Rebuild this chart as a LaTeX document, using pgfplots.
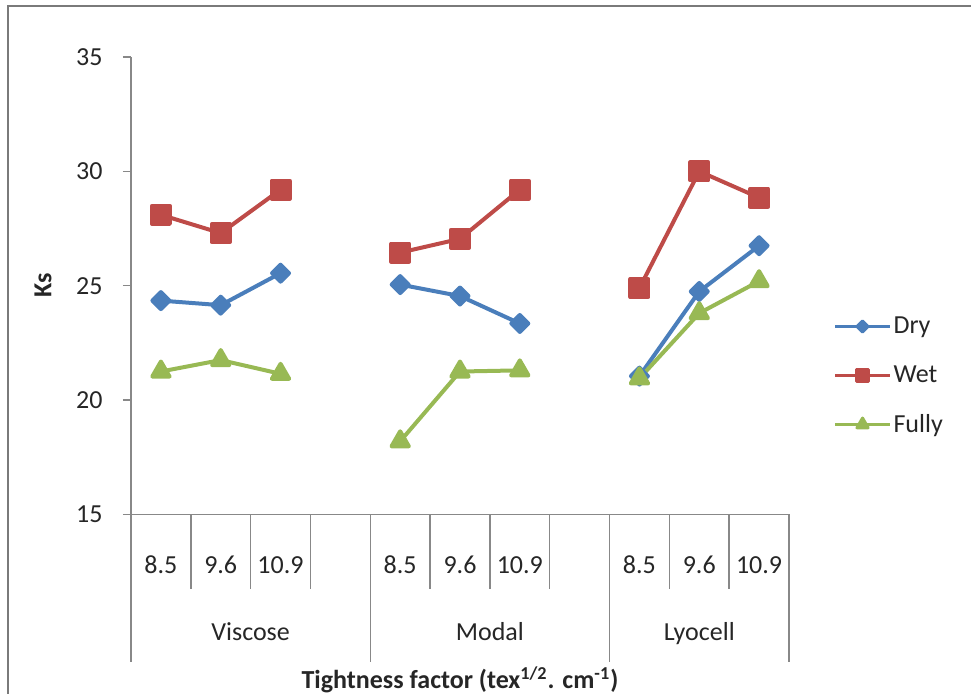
\documentclass[border=0pt]{standalone}
\usepackage{fontspec}
\setmainfont{Carlito}
\usepackage{pgfplots}
\pgfplotsset{compat=1.18}

\definecolor{dryc}{HTML}{4A7EBB}
\definecolor{wetc}{HTML}{BE4B48}
\definecolor{fullyc}{HTML}{98B954}
\definecolor{axgray}{HTML}{888888}
\definecolor{txt}{HTML}{262626}

\begin{document}
\begin{tikzpicture}[font=\fontsize{13}{15}\selectfont]
\path[use as bounding box] (-65.5pt,-89.75pt) rectangle (420pt,257.25pt);
\clip (-65.5pt,-89.75pt) rectangle (420pt,257.25pt);
% outer chart frame
\draw[axgray!90!black, line width=1pt] (-61.25pt,254.25pt) rectangle (440pt,-110pt);
\begin{axis}[
  at={(0,0)}, anchor=south west,
  scale only axis, width=329pt, height=228.75pt,
  xmin=-0.5, xmax=10.5, ymin=15, ymax=35,
  ytick={15,20,25,30,35},
  xtick={0,1,2,4,5,6,8,9,10},
  xticklabels={8.5,9.6,10.9,8.5,9.6,10.9,8.5,9.6,10.9},
  axis lines*=left,
  axis line style={axgray, line width=0.75pt},
  xtick style={draw=none},
  ytick style={axgray, line width=0.75pt},
  tick align=outside, major tick length=4pt,
  /pgf/number format/assume math mode=true,
  ticklabel style={text=txt, font=\fontsize{13}{15}\selectfont},
  xticklabel style={anchor=base, yshift=-25.4pt},
  yticklabel style={anchor=east, inner sep=0pt, xshift=-10pt},
  xlabel={\textbf{Tightness factor (tex\textsuperscript{1/2}. cm\textsuperscript{-1})}},
  xlabel style={at={(axis description cs:0.5,0)}, anchor=base, yshift=-87pt, text=txt},
  ylabel={\textbf{Ks}},
  ylabel style={at={(axis description cs:-0.1337,0.5)}, anchor=center, rotate=0, text=txt},
  clip=false,
  unbounded coords=jump,
  every axis plot/.append style={line width=2pt, line join=round},
  legend image code/.code={\draw[mark repeat=2,mark phase=2, line width=1.5pt,
      every mark/.append style={scale=0.65}]
    plot coordinates {(0pt,0pt) (13.75pt,0pt) (27.5pt,0pt)};},
  legend style={at={(1.058,0.303)}, anchor=west, draw=none, fill=none,
    row sep=12.5pt, font=\fontsize{13}{15}\selectfont, text=txt,
    nodes={inner sep=1pt}},
  legend cell align=left,
]
\addplot[dryc, mark=square*, mark size=3pt, mark options={rotate=45, solid}]
  coordinates {(0,24.35) (1,24.15) (2,25.55) (3,nan) (4,25.05) (5,24.55) (6,23.35) (7,nan) (8,21.05) (9,24.75) (10,26.75)};
\addlegendentry{Dry}
\addplot[wetc, mark=square*, mark size=4.5pt]
  coordinates {(0,28.1) (1,27.3) (2,29.2) (3,nan) (4,26.45) (5,27.05) (6,29.2) (7,nan) (8,24.9) (9,30.0) (10,28.85)};
\addlegendentry{Wet}
\addplot[fullyc, mark=triangle*, mark size=5pt]
  coordinates {(0,21.25) (1,21.75) (2,21.15) (3,nan) (4,18.2) (5,21.25) (6,21.3) (7,nan) (8,20.95) (9,23.8) (10,25.2)};
\addlegendentry{Fully}
% multi-level category dividers
\pgfplotsinvokeforeach{0.5,1.5,2.5,4.5,5.5,6.5,8.5,9.5}{
  \draw[axgray, line width=0.75pt] (axis cs:#1,15) -- ++(0pt,-37.25pt);
}
\pgfplotsinvokeforeach{-0.5,3.5,7.5,10.5}{
  \draw[axgray, line width=0.75pt] (axis cs:#1,15) -- ++(0pt,-73.75pt);
}
\node[anchor=base, text=txt, yshift=-62.85pt] at (axis cs:1.5,15) {Viscose};
\node[anchor=base, text=txt, yshift=-62.85pt] at (axis cs:5.5,15) {Modal};
\node[anchor=base, text=txt, yshift=-62.85pt] at (axis cs:9,15) {Lyocell};
\end{axis}
\end{tikzpicture}
\end{document}
